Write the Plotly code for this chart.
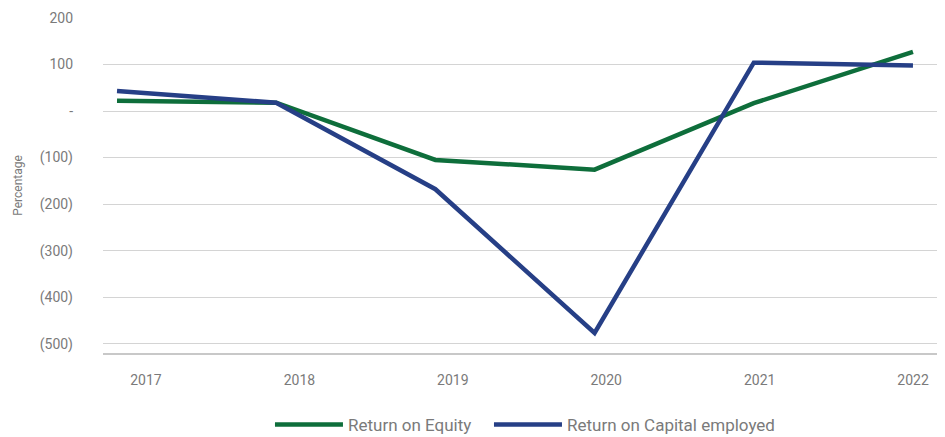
import plotly.graph_objects as go

years = ["2017", "2018", "2019", "2020", "2021", "2022"]
roe = [22, 18, -105, -126, 17, 127]
roce = [43, 18, -168, -477, 104, 98]
y_tickvals = [200, 100, 0, -100, -200, -300, -400, -500]
y_ticktext = ["200", "100", "-", "(100)", "(200)", "(300)", "(400)", "(500)"]

GREEN = "#0e6e3b"
BLUE = "#263f86"
GRAY_TXT = "#7a7a7a"

fig = go.Figure()
fig.add_trace(go.Scatter(x=years, y=roe, mode="lines", name="Return on Equity",
                         line=dict(color=GREEN, width=4.5), hoverinfo="skip",
                         legend="legend"))
fig.add_trace(go.Scatter(x=years, y=roce, mode="lines", name="Return on Capital employed",
                         line=dict(color=BLUE, width=4.5), hoverinfo="skip",
                         legend="legend2"))
# invisible carrier for the category-label axis
fig.add_trace(go.Scatter(x=years, y=roe, xaxis="x2", yaxis="y", mode="lines",
                         line=dict(width=0, color="rgba(0,0,0,0)"), showlegend=False,
                         hoverinfo="skip"))

legend_common = dict(orientation="h", xanchor="left", y=-0.215, yanchor="middle",
                     font=dict(size=17, color=GRAY_TXT), itemwidth=68,
                     bgcolor="rgba(0,0,0,0)")

fig.update_layout(
    width=929, height=429,
    margin=dict(l=95, r=0, t=10, b=84, autoexpand=False),
    paper_bgcolor="white", plot_bgcolor="white",
    font=dict(family="Roboto", color=GRAY_TXT, size=14),
    showlegend=True,
    legend=dict(x=0.2002, **legend_common),
    legend2=dict(x=0.4628, **legend_common),
    xaxis=dict(type="category", categoryorder="array", categoryarray=years,
               range=[-0.088, 5.151], showgrid=False, zeroline=False,
               showline=True, linecolor="#c8c8c8", linewidth=2,
               ticks="", showticklabels=False, automargin=False),
    xaxis2=dict(type="category", categoryorder="array", categoryarray=years,
                overlaying="x", anchor="y", side="bottom",
                range=[-0.28, 5.156], showgrid=False, zeroline=False, showline=False,
                ticks="", tickfont=dict(size=14, color=GRAY_TXT),
                ticklabelstandoff=17, automargin=False),
    yaxis=dict(range=[-520, 200], tickvals=y_tickvals, ticktext=y_ticktext,
               showgrid=True, gridcolor="#d4d4d4", gridwidth=1, zeroline=False,
               showline=False, ticks="", tickfont=dict(size=14, color=GRAY_TXT),
               ticklabelstandoff=29, automargin=False,
               title=dict(text="Percentage", font=dict(size=12, color=GRAY_TXT), standoff=14)),
)

fig.write_html("out.html")
